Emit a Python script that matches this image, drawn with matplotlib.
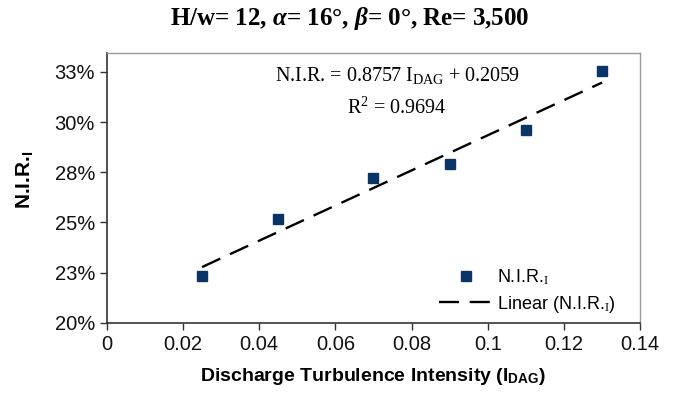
import numpy as np
import matplotlib
matplotlib.use("Agg")
import matplotlib.pyplot as plt
from matplotlib.ticker import FixedLocator

# Data
intensity = [0.025, 0.045, 0.07, 0.09, 0.11, 0.13]
nir = [0.2234, 0.2518, 0.2721, 0.2792, 0.2960, 0.3255]

# Trend line as printed on the chart
slope = 0.8757
intercept = 0.2059
r_squared = 0.9694

x_ticks = [0, 0.02, 0.04, 0.06, 0.08, 0.1, 0.12, 0.14]
x_tick_labels = ["0", "0.02", "0.04", "0.06", "0.08", "0.1", "0.12", "0.14"]
y_ticks = [0.20, 0.225, 0.25, 0.275, 0.30, 0.325]
y_tick_labels = ["20%", "23%", "25%", "28%", "30%", "33%"]

plt.rcParams["font.family"] = ["Liberation Sans", "DejaVu Sans"]
plt.rcParams["mathtext.fontset"] = "custom"
plt.rcParams["mathtext.rm"] = "Liberation Serif"
plt.rcParams["mathtext.it"] = "Liberation Serif:italic:bold"
plt.rcParams["mathtext.bf"] = "Liberation Sans:bold"
plt.rcParams["mathtext.sf"] = "Liberation Sans"

fig = plt.figure(figsize=(6.76, 4.01), dpi=100)
ax = fig.add_axes([0.158, 0.195, 0.789, 0.673])

# scatter points
ax.plot(intensity, nir, linestyle="none", marker="s", markersize=7.5,
        color="#0b3466", label=r"N.I.R.$_{\mathrm{I}}$")

# linear trend line over the data range
xl = np.array([min(intensity), max(intensity)])
ax.plot(xl, slope * xl + intercept, color="black", linewidth=1.7,
        dashes=(8.5, 4.5), label=r"Linear (N.I.R.$_{\mathrm{I}}$)")

ax.set_xlim(0, 0.14)
ax.set_ylim(0.20, 0.3345)
ax.xaxis.set_major_locator(FixedLocator(x_ticks))
ax.set_xticklabels(x_tick_labels)
ax.yaxis.set_major_locator(FixedLocator(y_ticks))
ax.set_yticklabels(y_tick_labels)
ax.tick_params(axis="both", direction="out", length=5, width=1,
               labelsize=14.5, color="#333333", labelcolor="#111111")

for side in ["left", "bottom"]:
    ax.spines[side].set_color("#333333")
    ax.spines[side].set_linewidth(1.2)
for side in ["top", "right"]:
    ax.spines[side].set_color("#999999")
    ax.spines[side].set_linewidth(1)

ax.set_xlabel(r"Discharge Turbulence Intensity (I$_{\mathbf{DAG}}$)",
              fontsize=14, fontweight="bold")
ax.xaxis.set_label_coords(0.5, -0.16)
ax.set_ylabel(r"N.I.R.$_{\mathbf{I}}$", fontsize=15, fontweight="bold")
ax.yaxis.set_label_coords(-0.135, 0.53)

# equation annotation
ax.text(0.544, 0.915,
        "N.I.R. = %.4f $\\mathrm{I}_{\\mathrm{DAG}}$ + %.4f" % (slope, intercept),
        transform=ax.transAxes, ha="center", va="center",
        fontsize=14.5, family="Liberation Serif")
ax.text(0.544, 0.795, "R$^{\\mathrm{2}}$ = %.4f" % r_squared,
        transform=ax.transAxes, ha="center", va="center",
        fontsize=14.5, family="Liberation Serif")

ax.legend(loc="lower right", bbox_to_anchor=(0.985, -0.03), frameon=False,
          fontsize=13, handlelength=3.0, handletextpad=0.2,
          labelspacing=0.35)

fig.text(0.518, 0.955, r"H/w= 12, $\alpha$= 16°, $\beta$= 0°, Re= 3,500",
         ha="center", va="center", fontsize=18, fontweight="bold",
         family="Liberation Serif")

fig.savefig("out.png", dpi=100)
